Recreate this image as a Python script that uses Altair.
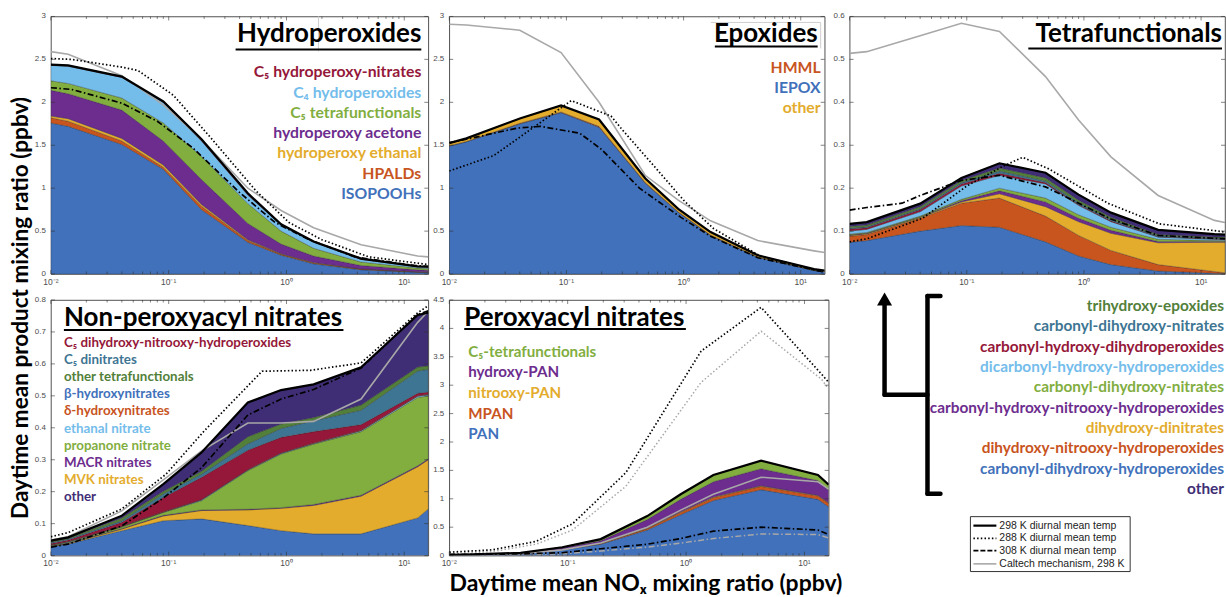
import altair as alt
import pandas as pd

# ---------------- data (ppbv) ----------------
NOX = [0.01, 0.014, 0.04, 0.09, 0.19, 0.47, 0.9, 1.7, 4.3, 13, 16]

# Hydroperoxides (stack bottom -> top, layer amounts)
HYD_ISOPOOHS = [1.76, 1.72, 1.51, 1.22, 0.75, 0.37, 0.22, 0.12, 0.05, 0.02, 0.02]
HYD_HPALDS = [0.06, 0.06, 0.04, 0.025, 0.04, 0.02, 0.01, 0.01, 0.008, 0.005, 0.004]
HYD_ETHANAL = [0.02, 0.03, 0.03, 0.025, 0.02, 0.01, 0.005, 0.003, 0.002, 0.002, 0.002]
HYD_ACETONE = [0.30, 0.29, 0.33, 0.28, 0.29, 0.19, 0.115, 0.077, 0.04, 0.023, 0.019]
HYD_C5TETRA = [0.11, 0.12, 0.14, 0.21, 0.27, 0.23, 0.15, 0.09, 0.04, 0.02, 0.02]
HYD_C4 = [0.18, 0.20, 0.24, 0.24, 0.18, 0.10, 0.07, 0.07, 0.03, 0.015, 0.015]
HYD_C5NITR = [0.01, 0.01, 0.01, 0.01, 0.02, 0.02, 0.01, 0.01, 0.01, 0.005, 0.005]
HYD_CALTECH = [2.59, 2.56, 2.31, 1.97, 1.57, 1.0, 0.74, 0.54, 0.34, 0.21, 0.2]
HYD_288_X = [0.01, 0.015, 0.04, 0.055, 0.11, 0.23, 0.55, 1.05, 2.0, 5.0, 16]
HYD_288 = [2.51, 2.50, 2.41, 2.37, 2.08, 1.58, 0.97, 0.6, 0.4, 0.2, 0.11]
HYD_308_X = [0.01, 0.015, 0.04, 0.08, 0.16, 0.4, 0.8, 1.5, 3.8, 12, 16]
HYD_308 = [2.17, 2.15, 1.99, 1.78, 1.47, 0.95, 0.6, 0.41, 0.2, 0.1, 0.09]

# Epoxides
EPO_IEPOX = [1.49, 1.54, 1.75, 1.88, 1.71, 1.06, 0.72, 0.45, 0.195, 0.04, 0.03]
EPO_HMML = [0.005, 0.005, 0.006, 0.008, 0.01, 0.006, 0.005, 0.004, 0.003, 0.002, 0.001]
EPO_OTHER = [0.03, 0.035, 0.055, 0.075, 0.08, 0.05, 0.035, 0.035, 0.02, 0.015, 0.01]
EPO_CALTECH = [2.91, 2.90, 2.84, 2.58, 2.0, 1.15, 0.86, 0.62, 0.39, 0.27, 0.25]
EPO_288_X = [0.01, 0.024, 0.11, 0.24, 0.3, 0.6, 1.0, 1.8, 4.5, 15, 16]
EPO_288 = [1.2, 1.38, 2.02, 1.84, 1.68, 1.21, 0.86, 0.53, 0.21, 0.03, 0.02]
EPO_308_X = [0.01, 0.014, 0.038, 0.06, 0.13, 0.2, 0.42, 0.95, 1.7, 4.3, 15]
EPO_308 = [1.53, 1.57, 1.70, 1.72, 1.64, 1.45, 1.0, 0.66, 0.44, 0.19, 0.03]

# Tetrafunctionals
TET_CDHH = [0.074, 0.078, 0.10, 0.113, 0.109, 0.075, 0.042, 0.022, 0.007, 0.002, 0.001]
TET_DHNH = [0.014, 0.014, 0.03, 0.052, 0.068, 0.06, 0.048, 0.033, 0.015, 0.004, 0.002]
TET_DHDN = [0.002, 0.002, 0.002, 0.003, 0.01, 0.022, 0.032, 0.04, 0.051, 0.068, 0.071]
TET_CHNH = [0.001, 0.001, 0.001, 0.003, 0.007, 0.011, 0.008, 0.007, 0.003, 0.002, 0.002]
TET_CDHN_A = [0.002, 0.002, 0.002, 0.003, 0.006, 0.009, 0.008, 0.007, 0.005, 0.002, 0.002]
TET_DCHH = [0.007, 0.007, 0.01, 0.031, 0.03, 0.033, 0.022, 0.013, 0.005, 0.003, 0.003]
TET_CHDH = [0.005, 0.004, 0.005, 0.005, 0.005, 0.003, 0.002, 0.002, 0.001, 0.001, 0.001]
TET_CDHN_B = [0.002, 0.002, 0.002, 0.003, 0.005, 0.004, 0.004, 0.003, 0.002, 0.002, 0.002]
TET_THE = [0.004, 0.004, 0.005, 0.005, 0.007, 0.007, 0.006, 0.005, 0.003, 0.002, 0.002]
TET_OTHER = [0.006, 0.007, 0.007, 0.006, 0.011, 0.012, 0.013, 0.011, 0.011, 0.007, 0.006]
TET_CALTECH = [0.514, 0.518, 0.555, 0.584, 0.565, 0.46, 0.359, 0.273, 0.183, 0.125, 0.12]
TET_288_X = [0.01, 0.014, 0.042, 0.1, 0.2, 0.3, 0.5, 1.6, 4.4, 16]
TET_288 = [0.075, 0.082, 0.13, 0.205, 0.25, 0.272, 0.245, 0.165, 0.117, 0.098]
TET_308_X = [0.01, 0.014, 0.028, 0.04, 0.09, 0.19, 0.47, 1.7, 4.3, 16]
TET_308 = [0.149, 0.155, 0.165, 0.183, 0.218, 0.23, 0.203, 0.128, 0.09, 0.082]

# Non-peroxyacyl nitrates
NPN_BHN = [0.028, 0.036, 0.078, 0.109, 0.115, 0.094, 0.078, 0.068, 0.068, 0.118, 0.146]
NPN_MVK = [0.001, 0.002, 0.005, 0.015, 0.026, 0.049, 0.07, 0.089, 0.118, 0.16, 0.154]
NPN_MACR = [0.001, 0.001, 0.002, 0.002, 0.002, 0.002, 0.002, 0.003, 0.003, 0.003, 0.003]
NPN_PROP = [0.002, 0.003, 0.005, 0.009, 0.029, 0.121, 0.168, 0.189, 0.199, 0.214, 0.197]
NPN_ETH = [0.001, 0.001, 0.001, 0.001, 0.002, 0.002, 0.002, 0.002, 0.003, 0.004, 0.004]
NPN_DHN = [0.0005, 0.001, 0.001, 0.001, 0.001, 0.001, 0.001, 0.001, 0.001, 0.001, 0.001]
NPN_C5DNH = [0.0045, 0.005, 0.012, 0.045, 0.07, 0.061, 0.049, 0.036, 0.018, 0.008, 0.007]
NPN_C5DN = [0.003, 0.003, 0.005, 0.011, 0.01, 0.02, 0.028, 0.034, 0.045, 0.07, 0.071]
NPN_OTETRA = [0.003, 0.003, 0.009, 0.008, 0.009, 0.022, 0.014, 0.01, 0.016, 0.012, 0.011]
NPN_OTHER = [0.003, 0.002, 0.007, 0.023, 0.059, 0.107, 0.106, 0.104, 0.118, 0.163, 0.166]
NPN_CALTECH = [0.049, 0.059, 0.14, 0.237, 0.328, 0.415, 0.415, 0.42, 0.49, 0.73, 0.765]
NPN_288_X = [0.01, 0.014, 0.04, 0.095, 0.2, 0.62, 1.6, 4.3, 13, 16]
NPN_288 = [0.059, 0.072, 0.146, 0.255, 0.39, 0.577, 0.58, 0.603, 0.76, 0.782]
NPN_308 = [0.026, 0.036, 0.093, 0.18, 0.275, 0.44, 0.49, 0.52, 0.587, 0.755, 0.766]

# Peroxyacyl nitrates
PAN_PAN = [0.01, 0.012, 0.03, 0.1, 0.2, 0.45, 0.72, 0.97, 1.16, 0.99, 0.86]
PAN_MPAN = [0.001, 0.001, 0.002, 0.005, 0.01, 0.025, 0.04, 0.05, 0.06, 0.06, 0.06]
PAN_NPAN = [0.0, 0.0, 0.001, 0.002, 0.005, 0.01, 0.01, 0.01, 0.01, 0.01, 0.01]
PAN_HPAN = [0.003, 0.004, 0.01, 0.03, 0.045, 0.15, 0.22, 0.27, 0.3, 0.26, 0.22]
PAN_C5 = [0.001, 0.002, 0.005, 0.01, 0.03, 0.06, 0.09, 0.12, 0.14, 0.1, 0.1]
PAN_CALTECH = [0.01, 0.012, 0.035, 0.1, 0.22, 0.5, 0.8, 1.08, 1.38, 1.3, 1.17]
PAN_288_X = [0.01, 0.023, 0.054, 0.11, 0.31, 1.34, 4.3, 14, 16]
PAN_288 = [0.06, 0.1, 0.25, 0.56, 1.46, 3.6, 4.37, 3.19, 3.05]
PAN_CALTECH_288 = [0.03, 0.07, 0.2, 0.45, 1.22, 3.05, 3.95, 3.1, 2.93]
PAN_308 = [0.02, 0.02, 0.03, 0.05, 0.12, 0.2, 0.3, 0.43, 0.5, 0.45, 0.37]
PAN_CALTECH_308 = [0.01, 0.01, 0.02, 0.03, 0.08, 0.15, 0.22, 0.3, 0.38, 0.37, 0.31]

# ---------------- labels & colours ----------------
BLUE, ORANGE, GOLD, PURPLE, GREEN = "#4171BA", "#C8541E", "#E3AC2D", "#6C2D8E", "#82AE3F"
LBLUE, DRED, STEEL, DGREEN, INDIGO = "#74BDEB", "#95183A", "#3E7593", "#52803A", "#3F2E75"
GRAY = "#A8A8A8"

HYD_LABELS = ["C₅ hydroperoxy-nitrates", "C₄ hydroperoxides", "C₅ tetrafunctionals",
              "hydroperoxy acetone", "hydroperoxy ethanal", "HPALDs", "ISOPOOHs"]
HYD_LABEL_COLORS = [DRED, LBLUE, GREEN, PURPLE, GOLD, ORANGE, BLUE]
EPO_LABELS = ["HMML", "IEPOX", "other"]
EPO_LABEL_COLORS = [ORANGE, BLUE, GOLD]
NPN_LABELS = ["C₅ dihydroxy-nitrooxy-hydroperoxides", "C₅ dinitrates", "other tetrafunctionals",
              "β-hydroxynitrates", "δ-hydroxynitrates", "ethanal nitrate", "propanone nitrate",
              "MACR nitrates", "MVK nitrates", "other"]
NPN_LABEL_COLORS = [DRED, STEEL, DGREEN, BLUE, ORANGE, LBLUE, GREEN, PURPLE, GOLD, INDIGO]
PAN_LABELS = ["C₅-tetrafunctionals", "hydroxy-PAN", "nitrooxy-PAN", "MPAN", "PAN"]
PAN_LABEL_COLORS = [GREEN, PURPLE, GOLD, ORANGE, BLUE]
TET_LABELS = ["trihydroxy-epoxides", "carbonyl-dihydroxy-nitrates", "carbonyl-hydroxy-dihydroperoxides",
              "dicarbonyl-hydroxy-hydroperoxides", "carbonyl-dihydroxy-nitrates",
              "carbonyl-hydroxy-nitrooxy-hydroperoxides", "dihydroxy-dinitrates",
              "dihydroxy-nitrooxy-hydroperoxides", "carbonyl-dihydroxy-hydroperoxides", "other"]
TET_LABEL_COLORS = [DGREEN, STEEL, DRED, LBLUE, GREEN, PURPLE, GOLD, ORANGE, BLUE, INDIGO]
LINE_LABELS = ["298 K diurnal mean temp", "288 K diurnal mean temp", "308 K diurnal mean temp",
               "Caltech mechanism, 298 K"]

X_MAJOR = [0.01, 0.1, 1, 10]
X_TICK_LABELS = ["10⁻²", "10⁻¹", "10⁰", "10¹"]
X_MINOR = [0.02, 0.03, 0.04, 0.05, 0.06, 0.07, 0.08, 0.09, 0.2, 0.3, 0.4, 0.5, 0.6, 0.7,
           0.8, 0.9, 2, 3, 4, 5, 6, 7, 8, 9]

# ---------------- helpers ----------------
XS = alt.Scale(type="log", domain=[0.01, 16], nice=False)
ONE = pd.DataFrame({"k": [0]})
TICK = "#333333"
TFONT = "Lato"
LFONT = "Liberation Sans"
LCOL = "#4d4d4d"
BOXGRAY = "#cfcfcf"

STY = {
    "298": dict(color="black", strokeWidth=2.2),
    "288": dict(color="black", strokeWidth=1.7, strokeDash=[1.5, 2.2]),
    "308": dict(color="black", strokeWidth=1.7, strokeDash=[6, 2.5, 1.5, 2.5]),
    "c298": dict(color=GRAY, strokeWidth=1.6),
    "c288": dict(color=GRAY, strokeWidth=1.5, strokeDash=[1.5, 2.2]),
    "c308": dict(color=GRAY, strokeWidth=1.5, strokeDash=[6, 2.5, 1.5, 2.5]),
}


def txt(s, x, y, color="black", size=15.0, align="left", font=TFONT, weight="bold",
        angle=None, clip=False):
    kw = dict(align=align, baseline="middle", font=font, fontSize=size,
              fontWeight=weight, color=color)
    if angle is not None:
        kw["angle"] = angle
    if clip:
        kw["clip"] = True
    return alt.Chart(pd.DataFrame({"s": [s]})).mark_text(**kw).encode(
        x=alt.value(x), y=alt.value(y), text="s:N")


def seg(x1, y1, x2, y2, color="black", width=2.0, dash=None, cap="butt", clip=False,
        opacity=1.0):
    kw = dict(color=color, strokeWidth=width, strokeCap=cap, opacity=opacity)
    if dash:
        kw["strokeDash"] = dash
    if clip:
        kw["clip"] = True
    return alt.Chart(ONE).mark_rule(**kw).encode(
        x=alt.value(x1), x2=alt.value(x2), y=alt.value(y1), y2=alt.value(y2))


def labels(texts, colors, x, y0, dy, size, align, clip=False):
    return [txt(t, x, y0 + i * dy, color=c, size=size, align=align, clip=clip)
            for i, (t, c) in enumerate(zip(texts, colors))]


def panel(W, H, ymax, yvals, colors, series, lines, extras):
    ys = alt.Scale(domain=[0, ymax], nice=False, zero=True)
    rows = []
    for i, (c, vals) in enumerate(zip(colors, series)):
        for x, v in zip(NOX, vals):
            rows.append({"x": x, "v": v, "c": c, "o": i})
    sdf = pd.DataFrame(rows)
    layers = [alt.Chart(sdf).mark_area(clip=True, stroke="#262626", strokeWidth=0.5,
                                       strokeOpacity=0.6).encode(
        x=alt.X("x:Q", scale=XS, axis=None),
        y=alt.Y("v:Q", scale=ys, axis=None, stack="zero"),
        color=alt.Color("c:N", scale=None),
        order=alt.Order("o:Q", sort="ascending"))]
    for lx, ly, key in lines:
        d = pd.DataFrame({"x": lx, "v": ly})
        layers.append(alt.Chart(d).mark_line(clip=True, **STY[key]).encode(
            x=alt.X("x:Q", scale=XS, axis=None), y=alt.Y("v:Q", scale=ys, axis=None)))
    layers.append(alt.Chart(sdf).mark_line(clip=True, **STY["298"]).encode(
        x=alt.X("x:Q", scale=XS, axis=None), y=alt.Y("sum(v):Q", scale=ys, axis=None)))
    # inward ticks on all four sides
    for vals, L in ((X_MAJOR, 4), (X_MINOR, 2.5)):
        d = pd.DataFrame({"t": vals})
        layers.append(alt.Chart(d).mark_rule(color=TICK, strokeWidth=0.6).encode(
            x=alt.X("t:Q", scale=XS, axis=None), y=alt.value(H), y2=alt.value(H - L)))
        layers.append(alt.Chart(d).mark_rule(color=TICK, strokeWidth=0.6).encode(
            x=alt.X("t:Q", scale=XS, axis=None), y=alt.value(0), y2=alt.value(L)))
    d = pd.DataFrame({"t": yvals})
    layers.append(alt.Chart(d).mark_rule(color=TICK, strokeWidth=0.6).encode(
        y=alt.Y("t:Q", scale=ys, axis=None), x=alt.value(0), x2=alt.value(4)))
    layers.append(alt.Chart(d).mark_rule(color=TICK, strokeWidth=0.6).encode(
        y=alt.Y("t:Q", scale=ys, axis=None), x=alt.value(W - 4), x2=alt.value(W)))
    # tick labels
    xl = pd.DataFrame({"t": X_MAJOR, "lab": X_TICK_LABELS})
    layers.append(alt.Chart(xl).mark_text(baseline="top", align="center", font=LFONT,
                                          fontSize=8.5, color=LCOL).encode(
        x=alt.X("t:Q", scale=XS, axis=None), y=alt.value(H + 3.5), text="lab:N"))
    yl = pd.DataFrame({"t": yvals, "lab": [f"{v:g}" for v in yvals]})
    layers.append(alt.Chart(yl).mark_text(baseline="middle", align="right", font=LFONT,
                                          fontSize=8, color=LCOL).encode(
        y=alt.Y("t:Q", scale=ys, axis=None), x=alt.value(-5), text="lab:N"))
    layers += extras
    return alt.layer(*layers).properties(width=W, height=H)


# ---------------- panels ----------------
TOP_Y = [0, 0.5, 1, 1.5, 2, 2.5, 3]

p1 = panel(
    378, 258, 3, TOP_Y,
    [BLUE, ORANGE, GOLD, PURPLE, GREEN, LBLUE, DRED],
    [HYD_ISOPOOHS, HYD_HPALDS, HYD_ETHANAL, HYD_ACETONE, HYD_C5TETRA, HYD_C4, HYD_C5NITR],
    [(NOX, HYD_CALTECH, "c298"), (HYD_308_X, HYD_308, "308"), (HYD_288_X, HYD_288, "288")],
    [seg(-50, -15, -49, -15, color="white", opacity=0),
     seg(268, 0, 268, 35, color=BOXGRAY, width=1),
     txt("Daytime mean product mixing ratio (ppbv)", -30, 292, size=22.6, align="center",
         angle=270),
     txt("Hydroperoxides", 371, 18, size=26, align="right"),
     seg(185, 33, 371, 33, width=2)]
    + labels(HYD_LABELS, HYD_LABEL_COLORS, 371, 56, 20.3, 15.8, "right"))

p2 = panel(
    376, 258, 3, TOP_Y,
    [BLUE, ORANGE, GOLD],
    [EPO_IEPOX, EPO_HMML, EPO_OTHER],
    [(NOX, EPO_CALTECH, "c298"), (EPO_308_X, EPO_308, "308"), (EPO_288_X, EPO_288, "288")],
    [seg(262, 6, 372, 6, color=BOXGRAY, width=1),
     seg(372, 6, 372, 32, color=BOXGRAY, width=1),
     txt("Epoxides", 369, 18, size=26, align="right"),
     seg(266, 30, 369, 30, width=2)]
    + labels(EPO_LABELS, EPO_LABEL_COLORS, 372, 52, 20, 15.8, "right"))

p3 = panel(
    376, 258, 0.6, [0, 0.1, 0.2, 0.3, 0.4, 0.5, 0.6],
    [BLUE, ORANGE, GOLD, PURPLE, GREEN, LBLUE, DRED, STEEL, DGREEN, INDIGO],
    [TET_CDHH, TET_DHNH, TET_DHDN, TET_CHNH, TET_CDHN_A, TET_DCHH, TET_CHDH, TET_CDHN_B,
     TET_THE, TET_OTHER],
    [(NOX, TET_CALTECH, "c298"), (TET_308_X, TET_308, "308"), (TET_288_X, TET_288, "288")],
    [txt("Tetrafunctionals", 373, 18, size=26, align="right"),
     seg(179, 32, 373, 32, width=2)])

p4 = panel(
    378, 256, 0.8, [0, 0.1, 0.2, 0.3, 0.4, 0.5, 0.6, 0.7, 0.8],
    [BLUE, GOLD, PURPLE, GREEN, LBLUE, ORANGE, DRED, STEEL, DGREEN, INDIGO],
    [NPN_BHN, NPN_MVK, NPN_MACR, NPN_PROP, NPN_ETH, NPN_DHN, NPN_C5DNH, NPN_C5DN,
     NPN_OTETRA, NPN_OTHER],
    [(NOX, NPN_CALTECH, "c298"), (NOX, NPN_308, "308"), (NPN_288_X, NPN_288, "288")],
    [txt("Non-peroxyacyl nitrates", 13, 18, size=26, align="left"),
     seg(13, 30, 293, 30, width=2)]
    + labels(NPN_LABELS, NPN_LABEL_COLORS, 13, 42.7, 17.22, 13.4, "left"))

p5 = panel(
    380, 256, 4.5, [0, 0.5, 1, 1.5, 2, 2.5, 3, 3.5, 4, 4.5],
    [BLUE, ORANGE, GOLD, PURPLE, GREEN],
    [PAN_PAN, PAN_MPAN, PAN_NPAN, PAN_HPAN, PAN_C5],
    [(NOX, PAN_CALTECH, "c298"), (PAN_288_X, PAN_CALTECH_288, "c288"),
     (NOX, PAN_CALTECH_308, "c308"), (NOX, PAN_308, "308"), (PAN_288_X, PAN_288, "288")],
    [txt("Peroxyacyl nitrates", 15, 18, size=26, align="left"),
     seg(15, 29, 237, 29, width=2),
     txt("Daytime mean NOₓ mixing ratio (ppbv)", 197, 284, size=23, align="center")]
    + labels(PAN_LABELS, PAN_LABEL_COLORS, 19, 52, 20.6, 15.2, "left"))

# legend / annotation area (bottom right), origin at x = 850, y = 299
ARROW = "M -1 0.87 L 0 -0.87 L 1 0.87 Z"
legend_layers = [
    seg(78, -4, 78, 194, width=4.5, cap="round"),
    seg(78, -4, 91, -4, width=4.5, cap="round"),
    seg(78, 194, 91, 194, width=4.5, cap="round"),
    seg(35, 95, 78, 95, width=4.5, cap="round"),
    seg(35, 95, 35, 2, width=4.5, cap="round"),
    alt.Chart(ONE).mark_point(shape=ARROW, filled=True, size=225, color="black",
                              opacity=1, strokeWidth=0).encode(
        x=alt.value(35), y=alt.value(-1)),
] + labels(TET_LABELS, TET_LABEL_COLORS, 375, 6, 20.37, 15.4, "right") + [
    alt.Chart(ONE).mark_rect(fill="white", stroke="#333333", strokeWidth=1).encode(
        x=alt.value(121), x2=alt.value(281), y=alt.value(217), y2=alt.value(272)),
]
LEG_Y = [226, 238.7, 251, 264.3]
for key, yy, lab in zip(["298", "288", "308", "c298"], LEG_Y, LINE_LABELS):
    st = STY[key]
    dash = [5, 2] if key == "308" else st.get("strokeDash")
    legend_layers.append(seg(124, yy, 147, yy, color=st["color"], width=st["strokeWidth"],
                             dash=dash))
    legend_layers.append(txt(lab, 150, yy, color="#222222", size=10.5,
                             font=LFONT, weight="normal"))

p6 = alt.layer(*legend_layers).properties(
    width=376, height=256, view=alt.ViewBackground(stroke="transparent"))

chart = alt.concat(p1, p2, p3, p4, p5, p6, columns=3, spacing={"row": 26, "column": 21},
                   bounds="flush", padding=0).configure_view(
    stroke="#262626", strokeWidth=0.8)

chart.save("out.html", embed_options={"renderer": "svg", "actions": False})
